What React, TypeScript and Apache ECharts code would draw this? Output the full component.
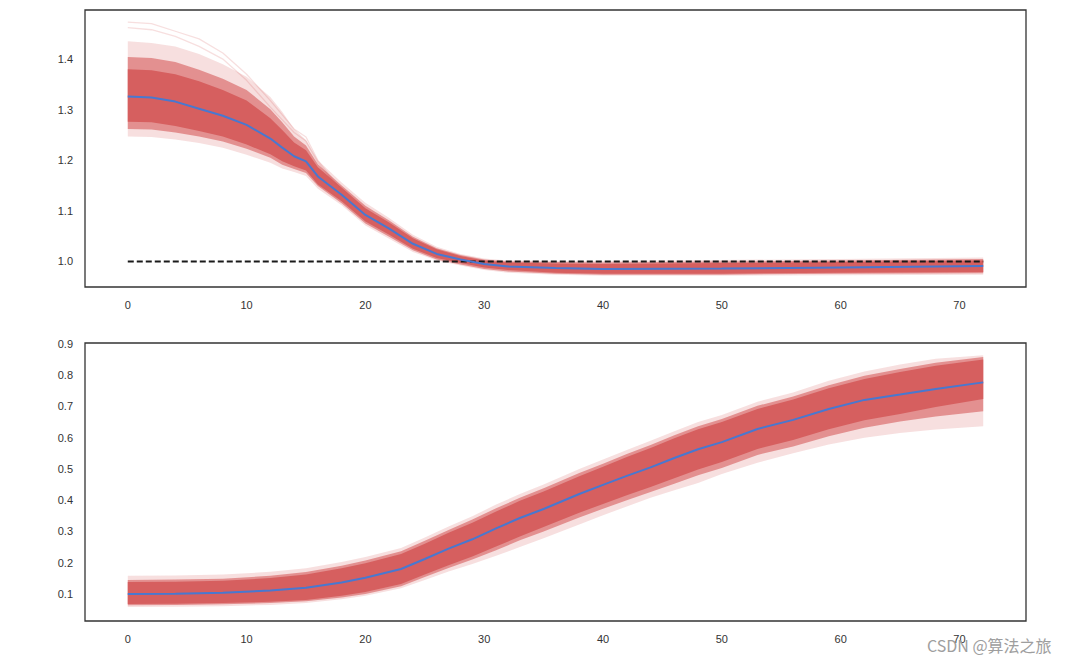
import React, { useEffect, useRef } from "react";
import * as echarts from "echarts";

// ---------- Top panel data ----------
const topX = [0, 2, 4, 6, 8, 10, 12, 13, 14, 15, 16, 18, 20, 22, 24, 26, 28, 30, 32, 36, 40, 50, 60, 72];
const topMean = [1.326, 1.324, 1.316, 1.302, 1.288, 1.27, 1.243, 1.225, 1.208, 1.198, 1.168, 1.132, 1.092, 1.065, 1.035, 1.015, 1.004, 0.995, 0.99, 0.987, 0.985, 0.986, 0.988, 0.991];
const topCoreHi = [1.38, 1.378, 1.37, 1.356, 1.339, 1.318, 1.283, 1.26, 1.235, 1.22, 1.186, 1.146, 1.105, 1.077, 1.046, 1.024, 1.011, 1.002, 0.998, 0.996, 0.995, 0.997, 0.999, 1.002];
const topCoreLo = [1.276, 1.275, 1.268, 1.258, 1.247, 1.231, 1.212, 1.198, 1.188, 1.18, 1.152, 1.119, 1.079, 1.053, 1.025, 1.007, 0.997, 0.988, 0.983, 0.978, 0.976, 0.976, 0.978, 0.979];
const topMidHi = [1.404, 1.402, 1.394, 1.379, 1.361, 1.339, 1.301, 1.275, 1.247, 1.229, 1.192, 1.15, 1.11, 1.081, 1.049, 1.026, 1.013, 1.004, 1.0, 0.999, 0.998, 1.0, 1.002, 1.005];
const topMidLo = [1.262, 1.261, 1.255, 1.247, 1.237, 1.223, 1.205, 1.191, 1.183, 1.175, 1.149, 1.115, 1.075, 1.049, 1.022, 1.004, 0.994, 0.985, 0.98, 0.976, 0.974, 0.974, 0.976, 0.977];
const topOutHi = [1.435, 1.432, 1.425, 1.41, 1.39, 1.365, 1.325, 1.296, 1.262, 1.24, 1.2, 1.156, 1.116, 1.086, 1.053, 1.029, 1.015, 1.006, 1.002, 1.001, 1.001, 1.003, 1.005, 1.008];
const topOutLo = [1.247, 1.246, 1.241, 1.234, 1.225, 1.211, 1.195, 1.184, 1.177, 1.169, 1.144, 1.111, 1.071, 1.045, 1.019, 1.002, 0.992, 0.983, 0.978, 0.974, 0.972, 0.972, 0.973, 0.974];
const outlierX = [0, 2, 4, 6, 8, 10, 12, 14, 15, 16, 18];
const topOutlierA = [1.473, 1.47, 1.455, 1.44, 1.412, 1.37, 1.318, 1.262, 1.246, 1.2, 1.14];
const topOutlierB = [1.462, 1.458, 1.445, 1.425, 1.4, 1.358, 1.305, 1.255, 1.238, 1.196, 1.138];
const refLineX = [0, 72];
const refLineY = [1.0, 1.0];

// ---------- Bottom panel data ----------
const botX = [0, 4, 8, 12, 15, 18, 20, 23, 25, 27, 29, 31, 33, 35, 38, 40, 42, 44, 46, 48, 50, 53, 56, 59, 62, 65, 68, 72];
const botMean = [0.1, 0.101, 0.104, 0.111, 0.12, 0.137, 0.152, 0.18, 0.212, 0.245, 0.275, 0.31, 0.343, 0.372, 0.42, 0.449, 0.478, 0.505, 0.535, 0.563, 0.586, 0.628, 0.657, 0.692, 0.721, 0.738, 0.756, 0.777];
const botCoreHi = [0.138, 0.139, 0.142, 0.151, 0.162, 0.182, 0.198, 0.228, 0.261, 0.296, 0.328, 0.364, 0.398, 0.428, 0.477, 0.507, 0.538, 0.567, 0.598, 0.627, 0.65, 0.692, 0.722, 0.758, 0.788, 0.81, 0.83, 0.85];
const botCoreLo = [0.068, 0.069, 0.071, 0.075, 0.081, 0.094, 0.106, 0.132, 0.162, 0.192, 0.22, 0.252, 0.284, 0.314, 0.36, 0.388, 0.416, 0.442, 0.47, 0.498, 0.522, 0.564, 0.593, 0.627, 0.656, 0.676, 0.698, 0.724];
const botMidHi = [0.145, 0.146, 0.149, 0.158, 0.17, 0.19, 0.207, 0.237, 0.27, 0.305, 0.338, 0.374, 0.408, 0.438, 0.487, 0.517, 0.548, 0.577, 0.608, 0.637, 0.66, 0.702, 0.732, 0.768, 0.798, 0.82, 0.84, 0.858];
const botMidLo = [0.064, 0.065, 0.067, 0.071, 0.077, 0.089, 0.1, 0.125, 0.154, 0.183, 0.21, 0.24, 0.272, 0.3, 0.345, 0.373, 0.4, 0.426, 0.453, 0.48, 0.503, 0.545, 0.572, 0.605, 0.632, 0.652, 0.668, 0.685];
const botOutHi = [0.158, 0.159, 0.162, 0.171, 0.182, 0.202, 0.218, 0.247, 0.281, 0.316, 0.349, 0.386, 0.42, 0.45, 0.5, 0.53, 0.561, 0.59, 0.621, 0.65, 0.673, 0.715, 0.745, 0.782, 0.812, 0.834, 0.853, 0.864];
const botOutLo = [0.058, 0.059, 0.061, 0.065, 0.071, 0.083, 0.094, 0.118, 0.145, 0.172, 0.196, 0.222, 0.25, 0.278, 0.322, 0.352, 0.38, 0.408, 0.432, 0.455, 0.484, 0.52, 0.55, 0.578, 0.6, 0.615, 0.626, 0.637];

// ---------- Axis ticks ----------
const xTicks = [0, 10, 20, 30, 40, 50, 60, 70];
const topYTicks = [1.0, 1.1, 1.2, 1.3, 1.4];
const botYTicks = [0.1, 0.2, 0.3, 0.4, 0.5, 0.6, 0.7, 0.8, 0.9];

const RED = "#d65f5f";
const RED_MID = "rgba(214,95,95,0.62)";
const RED_OUT = "rgba(214,95,95,0.2)";
const BLUE = "#4878d0";
const TEXT = "#333333";
const FONT = "'Liberation Sans', Arial, sans-serif";

const pairs = (xs: number[], ys: number[]) => xs.map((x, i) => [x, ys[i]]);

function band(idx: number, xs: number[], lo: number[], hi: number[], fill: string, name: string) {
  return {
    type: "custom",
    name,
    xAxisIndex: idx,
    yAxisIndex: idx,
    silent: true,
    data: xs.map((x, i) => [x, lo[i], hi[i]]),
    encode: { x: 0, y: [1, 2] },
    renderItem: (params: any, api: any) => {
      if (params.dataIndex !== 0) return null;
      const upper = xs.map((x, i) => api.coord([x, hi[i]]));
      const lower = xs.map((x, i) => api.coord([x, lo[i]])).reverse();
      return {
        type: "polygon",
        shape: { points: upper.concat(lower) },
        style: { fill },
      };
    },
  };
}

function line(idx: number, xs: number[], ys: number[], color: string, width: number, opacity = 1, type: any = "solid") {
  return {
    type: "line",
    xAxisIndex: idx,
    yAxisIndex: idx,
    symbol: "none",
    silent: true,
    data: pairs(xs, ys),
    lineStyle: { color, width, opacity, type },
  };
}

function xAxis(idx: number) {
  return {
    type: "value",
    gridIndex: idx,
    min: -3.6,
    max: 75.6,
    axisLine: { show: false },
    axisTick: { show: false },
    splitLine: { show: false },
    axisLabel: {
      customValues: xTicks,
      color: TEXT,
      fontSize: 11,
      fontFamily: FONT,
      margin: 12,
      formatter: (v: number) => String(Math.round(v)),
    },
  };
}

function yAxis(idx: number, min: number, max: number, ticks: number[]) {
  return {
    type: "value",
    gridIndex: idx,
    min,
    max,
    axisLine: { show: false },
    axisTick: { show: false },
    splitLine: { show: false },
    axisLabel: {
      customValues: ticks,
      color: TEXT,
      fontSize: 11,
      fontFamily: FONT,
      margin: 12,
      formatter: (v: number) => v.toFixed(1),
    },
  };
}

export default function App() {
  const ref = useRef<HTMLDivElement>(null);
  useEffect(() => {
    if (!ref.current) return;
    const chart = echarts.init(ref.current, undefined, { renderer: "svg" });
    const gridStyle = { show: true, borderColor: "#333333", borderWidth: 1.3, backgroundColor: "#ffffff" };
    chart.setOption({
      animation: false,
      backgroundColor: "#ffffff",
      grid: [
        { left: 85, top: 10, width: 941, height: 277, ...gridStyle },
        { left: 85, top: 343, width: 941, height: 278, ...gridStyle },
      ],
      xAxis: [xAxis(0), xAxis(1)],
      yAxis: [yAxis(0, 0.9496, 1.497, topYTicks), yAxis(1, 0.0136, 0.903, botYTicks)],
      series: [
        band(0, topX, topOutLo, topOutHi, RED_OUT, "tOut"),
        band(0, topX, topMidLo, topMidHi, RED_MID, "tMid"),
        band(0, topX, topCoreLo, topCoreHi, RED, "tCore"),
        line(0, outlierX, topOutlierA, RED, 1.3, 0.2),
        line(0, outlierX, topOutlierB, RED, 1.3, 0.2),
        line(0, refLineX, refLineY, "#1a1a1a", 1.8, 1, [6, 3]),
        line(0, topX, topMean, BLUE, 2),
        band(1, botX, botOutLo, botOutHi, RED_OUT, "bOut"),
        band(1, botX, botMidLo, botMidHi, RED_MID, "bMid"),
        band(1, botX, botCoreLo, botCoreHi, RED, "bCore"),
        line(1, botX, botMean, BLUE, 2),
      ],
      graphic: [
        {
          type: "text",
          left: 927,
          top: 637,
          style: {
            text: "CSDN @算法之旅",
            fill: "#9e9e9e",
            fontSize: 16,
            fontFamily: "'Noto Sans CJK SC', sans-serif",
          },
          z: 100,
        },
      ],
    });
    return () => chart.dispose();
  }, []);
  return (
    <div
      ref={ref}
      style={{ position: "absolute", left: 0, top: 0, width: 1079, height: 664, background: "#fff" }}
    />
  );
}
